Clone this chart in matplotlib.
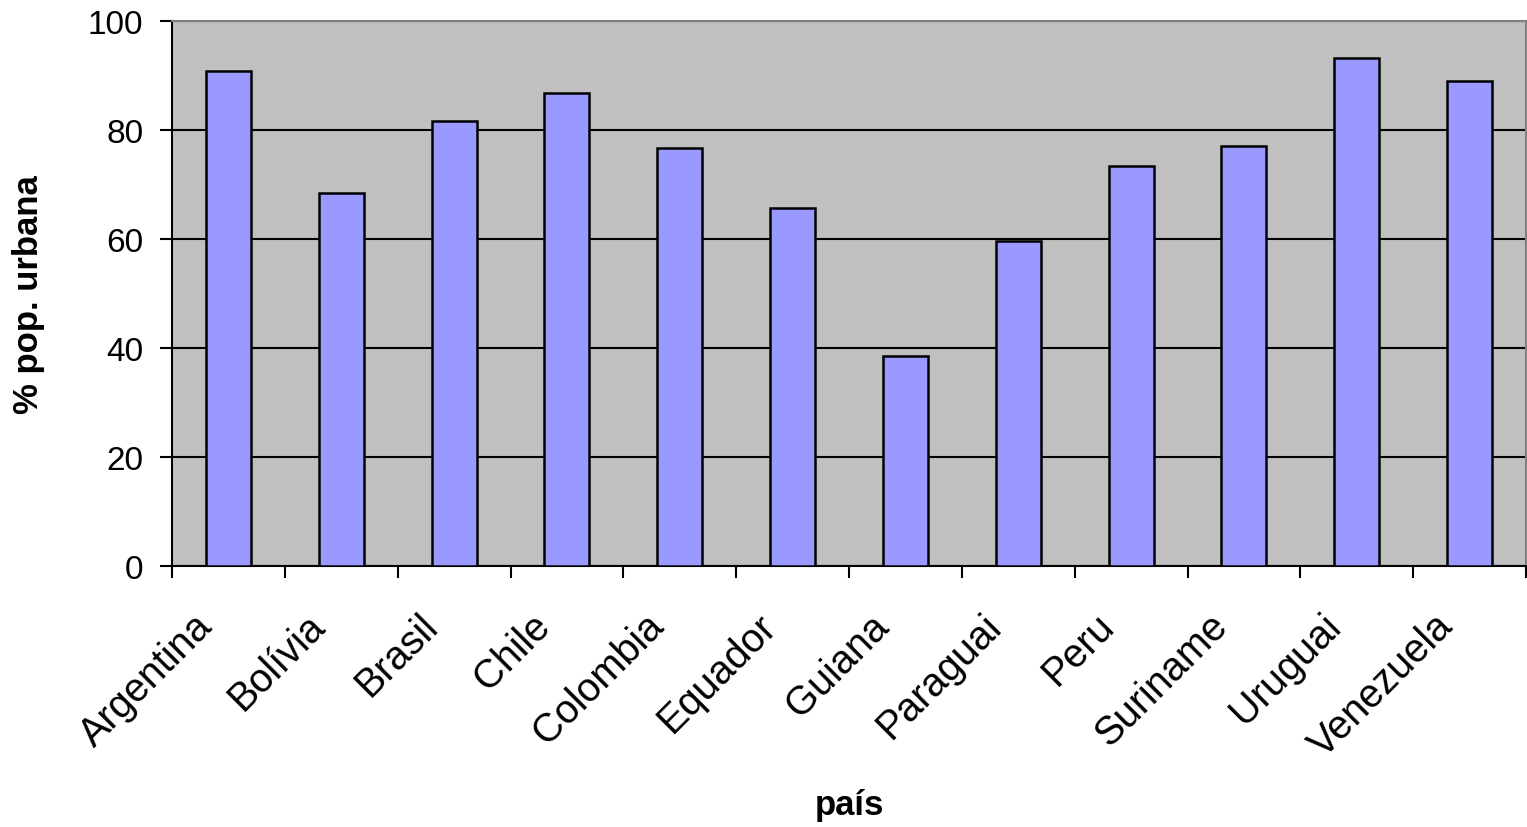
import matplotlib
matplotlib.use('Agg')
import matplotlib.pyplot as plt
import numpy as np

paises = ["Argentina", "Bolívia", "Brasil", "Chile", "Colombia", "Equador",
          "Guiana", "Paraguai", "Peru", "Suriname", "Uruguai", "Venezuela"]
pop_urbana = [90.9, 68.5, 81.7, 86.8, 76.7, 65.7, 38.6, 59.7, 73.4, 77.1, 93.2, 89.0]

plt.rcParams['font.family'] = ['Liberation Sans', 'DejaVu Sans']

fig = plt.figure(figsize=(15.27, 8.28), dpi=100)
ax = fig.add_axes([172 / 1527, (828 - 567) / 828, 1354 / 1527, 545 / 828])
ax.set_facecolor("#C0C0C0")

x = np.arange(len(paises))
ax.bar(x, pop_urbana, width=0.4, color="#9999FF", edgecolor="black", linewidth=1.8, zorder=3)

ax.set_xlim(-0.5, len(paises) - 0.5)
ax.set_ylim(0, 100)
ax.set_yticks(range(0, 101, 20))
ax.yaxis.grid(True, color="black", linewidth=1.5, zorder=1)
ax.set_axisbelow(True)

# ticks at category boundaries; labels end a little left of each category center
ax.set_xticks(np.arange(-0.5, len(paises) + 0.5, 1))
ax.set_xticklabels([])
ax.set_xticks(x - 0.13, minor=True)
ax.set_xticklabels(paises, minor=True, rotation=45, ha="right", va="baseline",
                   rotation_mode="anchor", fontsize=28.5)
ax.tick_params(axis="x", which="minor", length=0, pad=44)
ax.tick_params(axis="x", which="major", length=8.6, width=1.5, direction="out")
ax.tick_params(axis="y", length=8.6, width=1.5, direction="out", labelsize=24, pad=12)

for s in ["left", "bottom"]:
    ax.spines[s].set_color("black")
    ax.spines[s].set_linewidth(1.5)
for s in ["top", "right"]:
    ax.spines[s].set_color("#808080")
    ax.spines[s].set_linewidth(1.5)

ax.set_xlabel("país", fontsize=25, fontweight="bold")
ax.xaxis.label.set_va("baseline")
ax.xaxis.set_label_coords(0.5, (567 - 815) / 545)
ax.set_ylabel("% pop. urbana", fontsize=25, fontweight="bold")
ax.yaxis.label.set(rotation_mode="default", ha="center", va="center")
ax.yaxis.set_label_coords((29 - 172) / 1354, 0.5)

plt.savefig("out.png", dpi=100)
plt.close()
